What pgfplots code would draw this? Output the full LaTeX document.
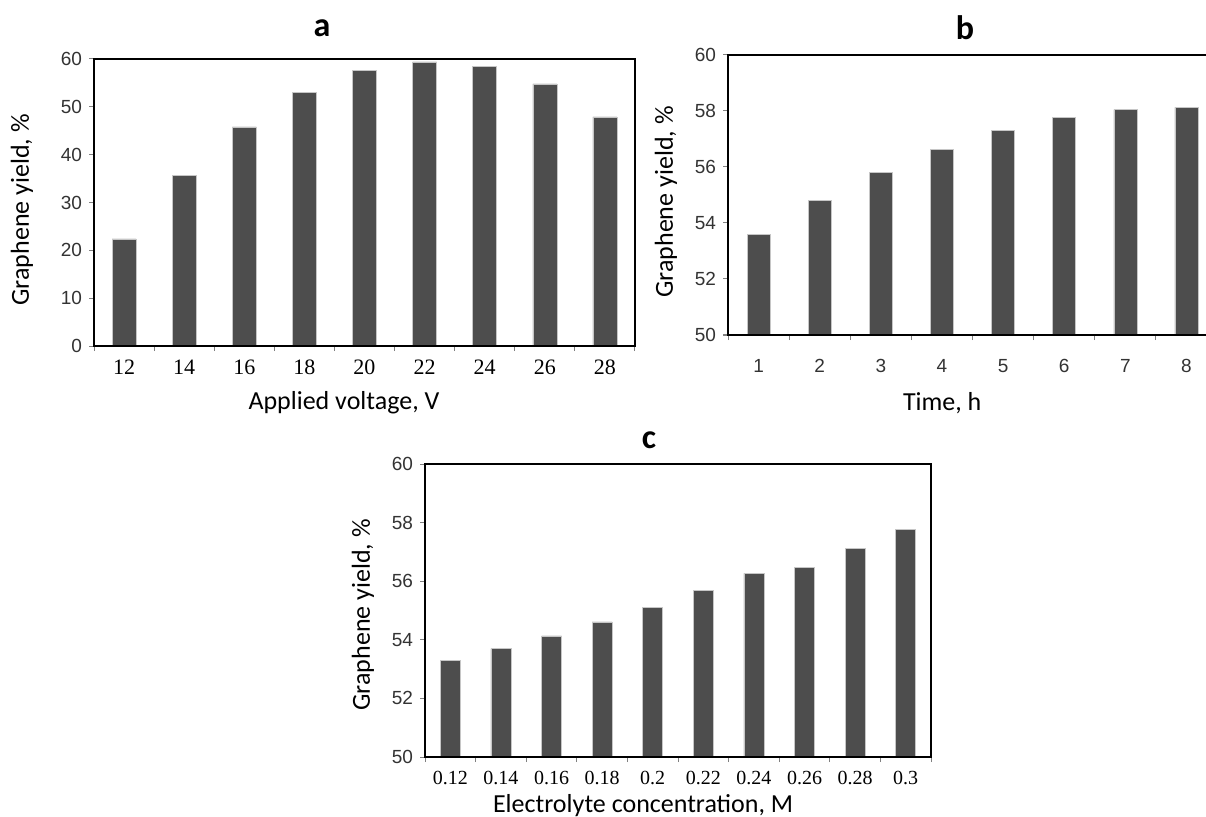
\documentclass[border=0pt]{standalone}
\usepackage{fontspec}
\usepackage{pgfplots}
\pgfplotsset{compat=1.18}
\setmainfont{Carlito}
\newfontfamily\serifticks{Liberation Serif}
\newfontfamily\sansticks{Liberation Sans}
\definecolor{barcol}{HTML}{4D4D4D}

\pgfplotsset{
  panel/.style={
    ybar, scale only axis, anchor=south west, axis on top,
    axis line style={black, line width=1pt},
    tick align=outside,
    major tick length=2.5pt, minor tick length=2.5pt,
    ytick style={gray, line width=0.5pt},
    major x tick style={draw=none},
    minor x tick style={gray, line width=0.5pt},
    xtick pos=left, ytick pos=left,
    enlargelimits=false,
    yticklabel style={font=\sansticks\fontsize{9.5}{11}\selectfont, text=black!80},
    /pgf/number format/assume math mode=true,
    label style={font=\fontsize{13}{15}\selectfont},
    ylabel style={anchor=center},
    xlabel style={anchor=center},
  },
  bars/.style={fill=barcol, draw=gray!45, line width=0.3pt},
}

\begin{document}
\begin{tikzpicture}[x=1pt,y=1pt]
\useasboundingbox (0pt,0pt) rectangle (603pt,408pt);

% a
\begin{axis}[panel, at={(47pt,235pt)}, width=270.5pt, height=143.5pt,
  bar width=12pt, xmin=-0.5, xmax=8.5, ymin=0, ymax=60,
  ytick={0,10,...,60},
  xtick={0,...,8}, minor xtick={-0.5,0.5,...,8.5},
  xticklabels={12,14,16,18,20,22,24,26,28},
  xticklabel style={font=\serifticks\fontsize{11}{13}\selectfont, yshift=-1pt},
  xlabel={Applied voltage, V}, ylabel={Graphene yield, \%},
  xlabel style={at={(axis description cs:0.462,-0.199)}},
  ylabel style={at={(axis description cs:-0.133,0.474)}}]
\addplot[bars] coordinates {(0,22.4) (1,35.7) (2,45.8) (3,53.1) (4,57.6)
  (5,59.4) (6,58.5) (7,54.8) (8,47.9)};
\end{axis}

% b
\begin{axis}[panel, at={(364pt,240.5pt)}, width=244.5pt, height=140pt,
  bar width=11.5pt, xmin=-0.5, xmax=7.5, ymin=50, ymax=60,
  ytick={50,52,...,60},
  xtick={0,...,7}, minor xtick={-0.5,0.5,...,7.5},
  xticklabels={1,2,3,4,5,6,7,8},
  xticklabel style={font=\sansticks\fontsize{9.5}{11}\selectfont, text=black!80, yshift=-6pt},
  xlabel={Time, h}, ylabel={Graphene yield, \%},
  xlabel style={at={(axis description cs:0.438,-0.243)}},
  ylabel style={at={(axis description cs:-0.127,0.475)}}]
\addplot[bars] coordinates {(0,53.58) (1,54.8) (2,55.81) (3,56.64) (4,57.3)
  (5,57.76) (6,58.05) (7,58.13)};
\end{axis}

% c
\begin{axis}[panel, at={(212.5pt,29.5pt)}, width=253pt, height=146.5pt,
  bar width=10pt, xmin=-0.5, xmax=9.5, ymin=50, ymax=60,
  ytick={50,52,...,60},
  xtick={0,...,9}, minor xtick={-0.5,0.5,...,9.5},
  xticklabels={0.12,0.14,0.16,0.18,0.2,0.22,0.24,0.26,0.28,0.3},
  xticklabel style={font=\serifticks\fontsize{10}{12}\selectfont, yshift=-1pt},
  xlabel={Electrolyte concentration, M}, ylabel={Graphene yield, \%},
  xlabel style={at={(axis description cs:0.431,-0.166)}},
  ylabel style={at={(axis description cs:-0.1225,0.485)}}]
\addplot[bars] coordinates {(0,53.29) (1,53.7) (2,54.13) (3,54.61) (4,55.11)
  (5,55.68) (6,56.27) (7,56.48) (8,57.12) (9,57.77)};
\end{axis}

\node[font=\bfseries\fontsize{17}{20}\selectfont] at (161pt,394pt) {a};
\node[font=\bfseries\fontsize{17}{20}\selectfont] at (482.5pt,394pt) {b};
\node[font=\bfseries\fontsize{17}{20}\selectfont] at (324.5pt,188pt) {c};
\end{tikzpicture}
\end{document}
